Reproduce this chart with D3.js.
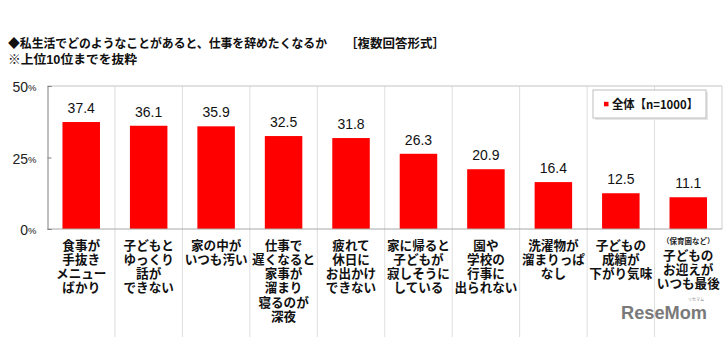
<!DOCTYPE html>
<html lang="ja"><head><meta charset="utf-8">
<script src="https://cdn.jsdelivr.net/npm/d3@7"></script>
<style>
html,body{margin:0;padding:0;background:#fff;}
svg{display:block;}
</style>
</head><body>
<svg id="chart" width="728" height="337"></svg>
<script>
// ---- data ----
const categories = [
  "食事が手抜きメニューばかり",
  "子どもとゆっくり話ができない",
  "家の中がいつも汚い",
  "仕事で遅くなると家事が溜まり寝るのが深夜",
  "疲れて休日にお出かけできない",
  "家に帰ると子どもが寂しそうにしている",
  "園や学校の行事に出られない",
  "洗濯物が溜まりっぱなし",
  "子どもの成績が下がり気味",
  "子どものお迎えがいつも最後"
];
const labelLines = [
  ["食事が","手抜き","メニュー","ばかり"],
  ["子どもと","ゆっくり","話が","できない"],
  ["家の中が","いつも汚い"],
  ["仕事で","遅くなると","家事が","溜まり","寝るのが","深夜"],
  ["疲れて","休日に","お出かけ","できない"],
  ["家に帰ると","子どもが","寂しそうに","している"],
  ["園や","学校の","行事に","出られない"],
  ["洗濯物が","溜まりっぱ","なし"],
  ["子どもの","成績が","下がり気味"],
  ["子どもの","お迎えが","いつも最後"]
];
const labelNotes = ["","","","","","","","","","（保育園など）"];
const values = [37.4, 36.1, 35.9, 32.5, 31.8, 26.3, 20.9, 16.4, 12.5, 11.1];
const yTicks = [0, 25, 50];
const seriesName = "全体【n=1000】";
const titleMain = "◆私生活でどのようなことがあると、仕事を辞めたくなるか";
const titleTag = "［複数回答形式］";
const subTitle = "※上位10位までを抜粋";

// ---- layout ----
const svg = d3.select("#chart");
const jp = "'Noto Sans CJK JP','Noto Sans',sans-serif";
const jpTight = "'Liberation Sans','Noto Sans CJK JP',sans-serif";
const lat = "'Liberation Sans',Arial,sans-serif";
const pLeft = 47.5, pRight = 722, pTop = 86, pBottom = 229;

const x = d3.scaleBand().domain(d3.range(values.length)).range([pLeft, pRight]).padding(0);
const y = d3.scaleLinear().domain([0, 50]).range([pBottom, pTop]);
const barW = x.bandwidth() * 0.556;

// title
svg.append("text").attr("x", 8).attr("y", 47.5)
  .attr("font-family", jpTight).attr("font-weight", "bold").attr("font-size", 12.5)
  .attr("textLength", 319).attr("lengthAdjust", "spacingAndGlyphs")
  .attr("fill", "#111").text(titleMain);
svg.append("text").attr("x", 345).attr("y", 47.5)
  .attr("font-family", jpTight).attr("font-weight", "bold").attr("font-size", 12.5)
  .attr("textLength", 100).attr("lengthAdjust", "spacingAndGlyphs")
  .attr("fill", "#111").text(titleTag);
svg.append("text").attr("x", 8).attr("y", 64)
  .attr("font-family", jpTight).attr("font-weight", "bold").attr("font-size", 12.5)
  .attr("textLength", 129).attr("lengthAdjust", "spacingAndGlyphs")
  .attr("fill", "#111").text(subTitle);

// category separators
const bounds = d3.range(1, values.length).map(i => x(i));
svg.append("g").selectAll("line").data(bounds).join("line")
  .attr("x1", d => d).attr("x2", d => d).attr("y1", pTop).attr("y2", 337)
  .attr("stroke", "#dedede").attr("stroke-width", 1);
// right border
svg.append("line").attr("x1", pRight).attr("x2", pRight).attr("y1", pTop).attr("y2", pBottom)
  .attr("stroke", "#d0d0d0");
// top border
svg.append("line").attr("x1", pLeft).attr("x2", pRight).attr("y1", pTop).attr("y2", pTop)
  .attr("stroke", "#c4c4c4");

// bars
svg.append("g").selectAll("rect").data(values).join("rect")
  .attr("x", (d, i) => x(i) + (x.bandwidth() - barW) / 2)
  .attr("y", d => y(d))
  .attr("width", barW)
  .attr("height", d => y(0) - y(d))
  .attr("fill", "#ff0000");

// value labels
svg.append("g").selectAll("text").data(values).join("text")
  .attr("x", (d, i) => x(i) + x.bandwidth() / 2)
  .attr("y", d => y(d) - 9)
  .attr("text-anchor", "middle")
  .attr("font-family", lat).attr("font-size", 14).attr("fill", "#111")
  .text(d => d.toFixed(1));

// x baseline
svg.append("line").attr("x1", pLeft).attr("x2", pRight).attr("y1", pBottom).attr("y2", pBottom)
  .attr("stroke", "#a8a8a8");

// y axis
const yAxis = d3.axisLeft(y).tickValues(yTicks).tickSize(-4).tickPadding(11).tickFormat(d => d);
const ga = svg.append("g").attr("transform", `translate(${pLeft},0)`).call(yAxis);
ga.select(".domain").attr("stroke", "#808080");
ga.selectAll(".tick line").attr("stroke", "#808080");
ga.selectAll(".tick text").each(function(d) {
  const t = d3.select(this);
  t.text(null).attr("font-family", lat).attr("font-size", 14).attr("fill", "#222").attr("dy", "0.42em");
  t.append("tspan").text(d);
  t.append("tspan").attr("font-size", 9.5).attr("dy", "-0.1em").text("%");
});

// category labels (one text per category, lines as tspans)
const lab = svg.append("g");
labelLines.forEach((lines, i) => {
  const cx = x(i) + x.bandwidth() / 2;
  const note = labelNotes[i];
  const t = lab.append("text").attr("text-anchor", "middle")
    .attr("font-family", jpTight).attr("font-weight", "bold").attr("fill", "#111");
  const start = note ? 255 : 245;
  if (note) {
    t.append("tspan").attr("x", cx).attr("y", 244)
      .attr("font-size", 7.5).attr("fill", "#222").text(note);
  }
  lines.forEach((s, j) => {
    t.append("tspan").attr("x", cx).attr("y", start + j * 14.2 + 4.7)
      .attr("font-size", 12.6).text(s);
  });
});

// legend
const lg = svg.append("g");
lg.append("rect").attr("x", 595).attr("y", 92).attr("width", 113).attr("height", 28)
  .attr("fill", "#e6e6e6");
lg.append("rect").attr("x", 593).attr("y", 90).attr("width", 113).attr("height", 28)
  .attr("fill", "#fff").attr("stroke", "#bdbdbd");
lg.append("rect").attr("x", 604).attr("y", 101.8).attr("width", 4.5).attr("height", 4.5)
  .attr("fill", "#ff0000");
lg.append("text").attr("x", 612).attr("y", 108.6)
  .attr("font-family", jp).attr("font-weight", "bold").attr("font-size", 12)
  .attr("textLength", 86).attr("lengthAdjust", "spacingAndGlyphs")
  .attr("fill", "#111").text(seriesName);

// watermark
svg.append("text").attr("x", 621).attr("y", 319)
  .attr("font-family", lat).attr("font-weight", "bold").attr("font-size", 19)
  .attr("textLength", 86).attr("lengthAdjust", "spacingAndGlyphs")
  .attr("fill", "#7a7a7a").text("ReseMom");
svg.append("text").attr("x", 696).attr("y", 301)
  .attr("text-anchor", "middle")
  .attr("font-family", jp).attr("font-size", 4).attr("fill", "#888").text("リセマム");
</script>
</body></html>
